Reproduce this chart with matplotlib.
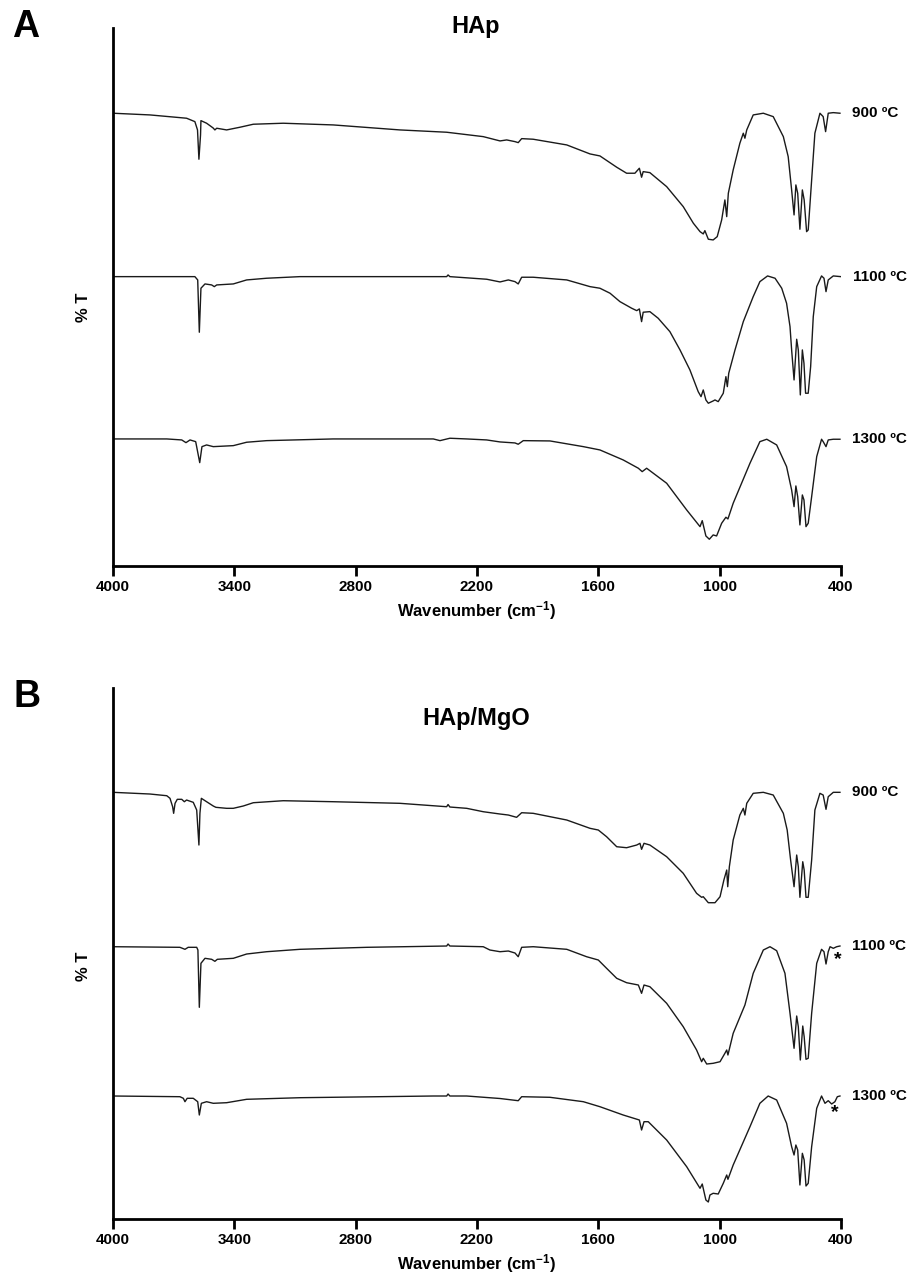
import matplotlib
matplotlib.use("Agg")
import matplotlib.pyplot as plt

plt.rcParams["font.family"] = ["Liberation Sans", "DejaVu Sans"]
plt.rcParams["font.weight"] = "bold"
plt.rcParams["mathtext.fontset"] = "custom"
plt.rcParams["mathtext.rm"] = "Liberation Sans:bold"
plt.rcParams["mathtext.default"] = "rm"

# wavenumber (cm-1) / transmittance (a.u.)
hap_900_wn = [4000, 3817, 3636, 3595, 3582, 3575, 3567, 3565, 3537, 3505, 3496, 3487, 3438, 3372,
              3306, 3158, 2911, 2581, 2350, 2169, 2086, 2053, 2012, 1996, 1979, 1922, 1756, 1641,
              1592, 1509, 1460, 1419, 1397, 1386, 1378, 1345, 1262, 1180, 1130, 1097, 1081, 1073,
              1056, 1032, 1012, 990, 974, 965, 957, 933, 900, 883, 875, 866, 834, 784, 735, 685,
              661, 644, 632, 623, 614, 603, 591, 582, 570, 562, 545, 529, 504, 488, 476, 463, 438, 405]
hap_900_t = [452.7, 451, 447.7, 444.3, 436, 406.7, 431, 445.3, 442.7, 438, 436, 437.7, 436, 438.7,
             441.7, 442.7, 441, 436, 433.7, 429.3, 425, 426, 424.3, 423.3, 427.3, 426.7, 421, 412,
             410, 398.7, 392.7, 392.7, 397.7, 388.7, 394.3, 393.3, 379.3, 359.3, 342.7, 334.3, 332, 335.3,
             326.7, 326, 329.3, 346, 366, 349.3, 372.7, 396, 422.7, 432.7, 427.7, 436, 451, 452.7, 449.3, 429.3,
             409.3, 376, 351, 381, 372.7, 336.7, 376, 366, 334.3, 336, 386, 432.7, 452.7, 449.3, 434.3, 452.7, 453.3, 452.7]

hap_1100_wn = [4000, 3595, 3581, 3573, 3565, 3545, 3512, 3499, 3487, 3405, 3339, 3240, 3075, 2745,
               2350, 2343, 2334, 2152, 2086, 2045, 2012, 1996, 1979, 1922, 1756, 1641, 1592, 1542,
               1493, 1435, 1410, 1397, 1386, 1378, 1345, 1304, 1246, 1196, 1147, 1106, 1092, 1081,
               1068, 1056, 1032, 1023, 1007, 982, 969, 962, 955, 924, 883, 834, 801, 763, 726, 693,
               669, 652, 644, 632, 619, 611, 601, 591, 583, 575, 562, 550, 537, 520, 496, 484, 474,
               463, 438, 401]
hap_1100_t = [289.3, 289.3, 286, 233.7, 277.7, 282, 281, 279.3, 281, 282, 286, 287.7, 289.3, 289.3,
              289.3, 291, 289.3, 286.7, 284, 286, 284.3, 282, 288.7, 288.7, 286, 279.3, 277.7, 272.7,
              264.3, 257.7, 255.3, 257, 244.3, 253.7, 254.3, 247.7, 234.3, 216, 196, 174.3, 169.3, 176,
              166, 162.7, 165, 166, 164.3, 172.7, 189.3, 179.3, 192.7, 216, 244.3, 269.3, 284.3, 290, 287.7, 277.7,
              262.7, 239.3, 216, 186, 226.7, 216, 171, 216, 202.7, 172.7, 172.7, 199.3, 249.3, 279.3, 290, 287.7, 274.3,
              286, 290, 289.3]

hap_1300_wn = [4000, 3734, 3660, 3639, 3619, 3591, 3571, 3560, 3537, 3504, 3405, 3339, 3240, 2911,
               2416, 2383, 2334, 2251, 2152, 2086, 2012, 1996, 1971, 1839, 1674, 1592, 1477, 1402,
               1383, 1361, 1262, 1163, 1097, 1086, 1068, 1051, 1032, 1015, 990, 969, 959, 933, 850,
               801, 767, 718, 669, 644, 632, 623, 614, 603, 591, 583, 573, 562, 545, 520, 496, 488,
               474, 463, 438, 405]
hap_1300_t = [127, 127, 126, 123.3, 126, 124.3, 103.3, 119.3, 121, 119.3, 120.3, 123.7, 125.3, 127,
              127, 125.3, 127.7, 127, 126, 124, 123, 121.7, 125.3, 125, 119.3, 116, 106, 97.7,
              94.3, 97.7, 82.7, 56, 39.3, 45.3, 30, 26.7, 31, 30, 42.7, 48.7, 47, 62.7, 102.7,
              124.3, 126.7, 121, 99.3, 76, 59.3, 80, 69.3, 41, 71, 66, 39.3, 42.7, 69.3, 109.3, 126.7, 124.3,
              119.3, 126, 126.7, 126.7]

mgo_900_wn = [4000, 3817, 3734, 3718, 3705, 3700, 3693, 3682, 3660, 3647, 3636, 3603, 3586, 3575,
              3570, 3563, 3537, 3504, 3491, 3438, 3405, 3356, 3306, 3158, 2911, 2581, 2350, 2343,
              2334, 2251, 2169, 2086, 2045, 2004, 1979, 1922, 1756, 1641, 1600, 1559, 1509, 1460,
              1410, 1394, 1386, 1374, 1345, 1262, 1180, 1114, 1089, 1081, 1056, 1023, 998, 979, 965,
              960, 952, 933, 900, 883, 875, 866, 834, 784, 735, 685, 666, 649, 632, 619, 611, 603,
              589, 582, 573, 562, 545, 529, 504, 488, 474, 463, 438, 405]
mgo_900_t = [426.7, 425, 423.3, 420.7, 412.3, 405.7, 415.7, 419.7, 419.7, 417.3, 419, 416.7, 409, 374,
             405.7, 420.7, 417.3, 413, 411.7, 410.7, 410.7, 413, 416.3, 418.3, 417.3, 415.7, 412.3, 414.5,
             412, 410.7, 407.3, 405, 404, 401.7, 406.3, 405.7, 399, 390.7, 389, 382.3, 372.3, 371.3,
             374, 375.7, 369.7, 375.7, 374, 362.3, 345.7, 325.7, 321.7, 322.3, 316.3, 316.3, 322.3, 339, 349,
             332.3, 352.3, 379, 404, 410.7, 404, 415.7, 425.7, 426.7, 424, 405.7, 389, 359, 332.3, 364, 352.3, 321.7,
             357.3, 349, 321.7, 321.7, 359, 409, 425.7, 424, 409.7, 422.3, 426.7, 426.7]

mgo_1100_wn = [4000, 3669, 3644, 3628, 3586, 3580, 3573, 3565, 3545, 3512, 3496, 3484, 3405, 3339,
               3240, 3075, 2745, 2350, 2343, 2334, 2169, 2136, 2086, 2045, 2012, 1996, 1979, 1922,
               1756, 1658, 1600, 1559, 1509, 1460, 1402, 1386, 1374, 1345, 1262, 1180, 1114, 1089,
               1081, 1064, 1032, 998, 974, 965, 959, 933, 875, 834, 784, 751, 718, 677, 652, 632,
               619, 611, 601, 589, 582, 573, 562, 545, 520, 496, 484, 474, 463, 454, 438, 421, 405]
mgo_1100_t = [272.3, 271.7, 269.7, 271.7, 271.7, 269, 211.7, 255.7, 260.7, 259.7, 257.7, 259.7, 260.7, 265,
              267.3, 269.7, 271.7, 273, 275, 273, 272.3, 269, 267.3, 268, 266, 262.3, 271.7, 272.3,
              269.7, 262.3, 259, 250.7, 240.7, 236.3, 234, 225.7, 234, 232.3, 215.7, 192.3, 169, 157.3,
              160.7, 155, 155.7, 157.3, 165.7, 169, 164, 185.7, 214, 245.7, 269, 272.3, 268.3, 245.7, 205.7, 170.7,
              203, 192.3, 159, 193, 182.3, 159.7, 160.7, 205.7, 255.7, 269.7, 267.3, 255, 267.3, 272.3, 270.7, 272.3, 273]

mgo_1300_wn = [4000, 3669, 3652, 3644, 3633, 3603, 3581, 3573, 3563, 3537, 3504, 3438, 3339, 3075,
               2416, 2350, 2343, 2334, 2251, 2086, 1996, 1979, 1839, 1674, 1592, 1477, 1397, 1386,
               1374, 1353, 1262, 1163, 1097, 1086, 1068, 1056, 1048, 1032, 1007, 982, 965, 959, 933,
               850, 801, 760, 718, 669, 644, 632, 623, 614, 603, 591, 582, 573, 562, 545, 520, 496,
               479, 463, 446, 430, 418, 405]
mgo_1300_t = [123, 122.3, 120.7, 117.3, 120.7, 120.7, 117.3, 104, 115.7, 117.3, 115.7, 116.3, 119.7, 121.3,
              123, 123, 125, 123, 123, 120.5, 118.3, 122.3, 121.7, 117.3, 112.3, 104, 99, 89,
              97.3, 97.3, 79, 52.3, 30.7, 35, 19, 17, 24, 25.7, 25, 35.7, 44, 39.7, 54,
              92.3, 115.7, 123, 119, 95.7, 72.3, 64, 74, 69, 34, 65.7, 59, 33, 35.7, 72.3, 110.7, 123,
              115.7, 118.3, 115, 117.3, 122.3, 123]

temps = ["900 ºC", "1100 ºC", "1300 ºC"]
xticks = [4000, 3400, 2800, 2200, 1600, 1000, 400]

# asterisks on the HAp/MgO spectra (wavenumber, %T)
star_wn = [418, 430]
star_t = [259, 106]

fig = plt.figure(figsize=(9.2, 12.81), dpi=100)


def draw_panel(rect, ylim, spectra, ylab_y):
    ax = fig.add_axes(rect)
    for (wn, t), lab in zip(spectra, temps):
        ax.plot(wn, t, color="#1a1a1a", lw=1.0)
        ax.annotate(lab, xy=(wn[-1], t[-1]), xytext=(12, 0), textcoords="offset pixels",
                    ha="left", va="center", fontsize=11, fontweight="bold",
                    annotation_clip=False)
    ax.set_xlim(4000, 400)
    ax.set_ylim(*ylim)
    ax.set_xticks(xticks)
    ax.set_yticks([])
    for s in ["top", "right"]:
        ax.spines[s].set_visible(False)
    for s in ["left", "bottom"]:
        ax.spines[s].set_linewidth(2)
    ax.tick_params(axis="x", direction="out", length=7, width=2, labelsize=11, pad=3)
    for lbl in ax.get_xticklabels():
        lbl.set_fontweight("bold")
    ax.set_xlabel("Wavenumber (cm$^{-1}$)", fontsize=12, fontweight="bold", labelpad=4)
    ax.set_ylabel("% T", fontsize=12, fontweight="bold")
    ax.yaxis.set_label_coords(-0.03, ylab_y)
    return ax


ax1 = draw_panel([0.1228, 0.5582, 0.7913, 0.4200], (0, 538),
                 [(hap_900_wn, hap_900_t), (hap_1100_wn, hap_1100_t), (hap_1300_wn, hap_1300_t)], 0.48)
ax2 = draw_panel([0.1228, 0.0484, 0.7913, 0.4145], (0, 531),
                 [(mgo_900_wn, mgo_900_t), (mgo_1100_wn, mgo_1100_t), (mgo_1300_wn, mgo_1300_t)], 0.475)

for w, t in zip(star_wn, star_t):
    ax2.text(w, t, "*", ha="center", va="center", fontsize=14, fontweight="bold")

fig.text(476 / 920, 1 - 27 / 1281, "HAp", ha="center", va="center", fontsize=17, fontweight="bold")
fig.text(476 / 920, 1 - 718 / 1281, "HAp/MgO", ha="center", va="center", fontsize=17, fontweight="bold")
fig.text(26 / 920, 1 - 27 / 1281, "A", ha="center", va="center", fontsize=27, fontweight="bold")
fig.text(27 / 920, 1 - 697 / 1281, "B", ha="center", va="center", fontsize=27, fontweight="bold")

fig.savefig("out.png", dpi=100)
